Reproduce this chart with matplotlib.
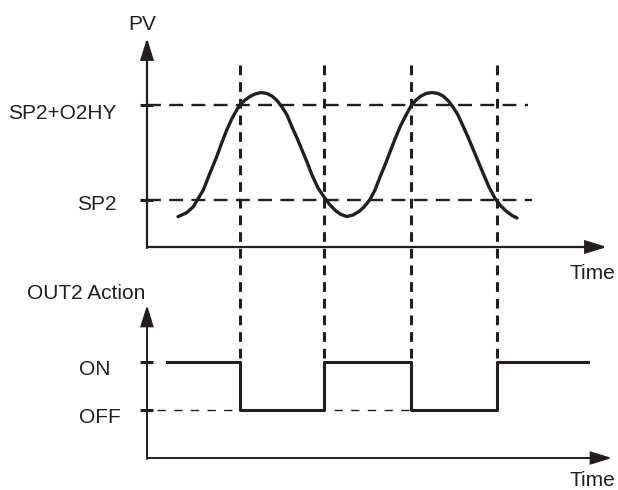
import matplotlib.pyplot as plt

# diagram units: time from the vertical axis, level above the time axis
pv_time = [31, 39.7, 46.3, 51.3, 56.3, 63, 69.7, 74.7, 79.7, 84.7,
           89.7, 93, 98, 103, 108, 114, 120, 125, 130, 135,
           140, 145, 150, 155, 160, 165, 171, 178, 183, 189,
           194, 200, 206, 212, 217, 223, 228, 233, 238, 243,
           248, 253, 258, 264, 269, 274, 279, 285, 291, 296,
           301, 306, 311, 316, 321, 326, 331, 336, 342, 348,
           353, 359, 365, 370]
pv_value = [30.3, 34.3, 40.3, 48.7, 57, 74, 90.3, 104, 117, 128,
            137, 142, 147, 150.5, 153, 154.5, 153.5, 151, 146.5, 140,
            132, 120, 109, 97, 85, 72, 59, 48.7, 42, 36,
            32.5, 30.5, 32, 35.5, 40, 47.5, 57, 70, 82, 95,
            108, 120, 130, 141, 147, 151, 153.5, 154.5, 153.5, 151,
            146.5, 140, 132, 121, 110, 98, 86, 74, 60, 48.7,
            42, 36, 31.5, 29]
sp2 = 47
sp2_hy = 142
switch_times = [93, 177, 264, 350]
out_levels = {"ON": 96, "OFF": 48}
out_times = [20, 93, 177, 264, 350, 441]
out_states = ["ON", "OFF", "ON", "OFF", "ON", "ON"]

INK = "#231f20"
X0 = 147      # x of both vertical axes
PV_Y0 = 247   # y of the PV time axis
OUT_Y0 = 458  # y of the OUT2 time axis

plt.rcParams["font.family"] = ["Liberation Sans", "DejaVu Sans"]
plt.rcParams["lines.scale_dashes"] = False

fig = plt.figure(figsize=(6.18, 4.9), dpi=100)
ax = fig.add_axes([0, 0, 1, 1])
ax.set_xlim(0, 618)
ax.set_ylim(490, 0)
ax.axis("off")


def arrow(x1, y1, x2, y2, lw):
    ax.annotate("", xy=(x2, y2), xytext=(x1, y1),
                arrowprops=dict(arrowstyle="-|>,head_length=0.65,head_width=0.2",
                                mutation_scale=20, lw=lw, color=INK,
                                shrinkA=0, shrinkB=0, joinstyle="miter"))


# axes with arrows
arrow(X0, PV_Y0 + 1, X0, 38, 1.6)
arrow(X0, PV_Y0, 607, PV_Y0, 1.6)
arrow(X0, OUT_Y0 + 1, X0, 305, 1.4)
arrow(X0, OUT_Y0, 612, OUT_Y0, 1.4)

# PV reference levels
for lvl, x_end in [(sp2_hy, 528), (sp2, 532)]:
    y = PV_Y0 - lvl
    ax.plot([X0, x_end], [y, y], color=INK, lw=1.7, dashes=(10, 6))
    ax.plot([X0 - 7, X0 + 6], [y, y], color=INK, lw=2.2, solid_capstyle="butt")

# PV curve
ax.plot([X0 + t for t in pv_time], [PV_Y0 - v for v in pv_value],
        color=INK, lw=2.4, solid_capstyle="round", solid_joinstyle="round")

# switching lines
for t in switch_times:
    ax.plot([X0 + t, X0 + t], [65, OUT_Y0 - out_levels["ON"]],
            color=INK, lw=2.2, dashes=(7, 5))

# OUT2 level ticks and OFF guide
for name, lvl in out_levels.items():
    y = OUT_Y0 - lvl
    ax.plot([X0 - 7, X0 + 6], [y, y], color=INK, lw=2.2, solid_capstyle="butt")
off_y = OUT_Y0 - out_levels["OFF"]
for a, b in [(X0, X0 + switch_times[0]), (X0 + switch_times[1], X0 + switch_times[2])]:
    ax.plot([a + 10, b], [off_y, off_y], color=INK, lw=1.0, dashes=(6, 6))

# OUT2 signal
ax.plot([X0 + t for t in out_times], [OUT_Y0 - out_levels[s] for s in out_states],
        color=INK, lw=2.2, drawstyle="steps-post")

# labels
fs = 15
ax.text(142, 30, "PV", fontsize=fs, color=INK, ha="center", va="baseline")
ax.text(116, PV_Y0 - sp2_hy + 14, "SP2+O2HY", fontsize=fs, color=INK, ha="right", va="baseline")
ax.text(117, PV_Y0 - sp2 + 10, "SP2", fontsize=fs, color=INK, ha="right", va="baseline")
ax.text(615, 279, "Time", fontsize=fs, color=INK, ha="right", va="baseline")
ax.text(27, 299, "OUT2 Action", fontsize=fs, color=INK, ha="left", va="baseline")
ax.text(79, OUT_Y0 - out_levels["ON"] + 13, "ON", fontsize=fs, color=INK, ha="left", va="baseline")
ax.text(79, OUT_Y0 - out_levels["OFF"] + 13, "OFF", fontsize=fs, color=INK, ha="left", va="baseline")
ax.text(615, 486, "Time", fontsize=fs, color=INK, ha="right", va="baseline")

fig.savefig("out.png", dpi=100)
